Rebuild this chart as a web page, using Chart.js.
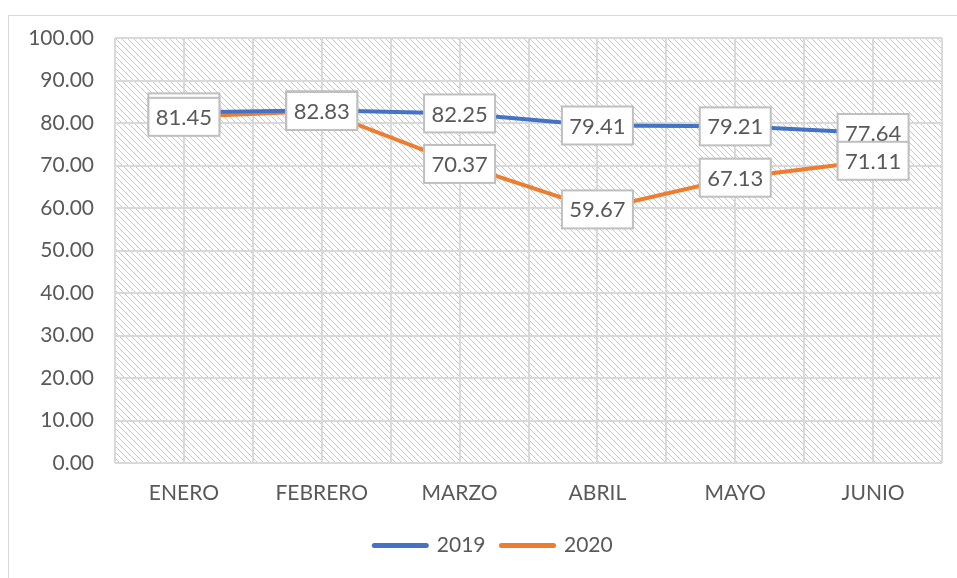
<!DOCTYPE html>
<html>
<head>
<meta charset="utf-8">
<script src="https://cdn.jsdelivr.net/npm/chart.js@4.4.0/dist/chart.umd.min.js"></script>
<style>
  html, body { margin: 0; padding: 0; background: #fff; overflow: hidden; }
  #box { position: absolute; left: 8px; top: 15px; width: 960px; height: 570px; border: 1px solid #d9d9d9; }
  #myChart { display: block; }
</style>
</head>
<body>
<div id="box"><canvas id="myChart" width="960" height="562"></canvas></div>
<script>
const meses = ['ENERO', 'FEBRERO', 'MARZO', 'ABRIL', 'MAYO', 'JUNIO'];
const valores2019 = [82.5, 83.0, 82.25, 79.41, 79.21, 77.64];
const valores2020 = [81.45, 82.83, 70.37, 59.67, 67.13, 71.11];
const series = ['2019', '2020'];

const gris = '#595959';
const fuente = 'Lato, "Open Sans", sans-serif';

// trama diagonal del fondo
function trama() {
  const c = document.createElement('canvas');
  c.width = 6; c.height = 6;
  const g = c.getContext('2d');
  g.strokeStyle = '#c8c8c8';
  g.lineWidth = 1;
  [-6, 0, 6].forEach(i => {
    g.beginPath();
    g.moveTo(i, 0);
    g.lineTo(i + 6, 6);
    g.stroke();
  });
  return c;
}

const fondo = {
  id: 'fondo',
  afterLayout(chart) {
    // la leyenda va algo a la derecha del centro del lienzo
    chart.legend.left += 18;
    chart.legend.right += 18;
  },
  beforeDraw(chart) {
    const { ctx, chartArea: a } = chart;
    ctx.save();
    ctx.fillStyle = ctx.createPattern(trama(), 'repeat');
    ctx.fillRect(a.left, a.top, a.right - a.left, a.bottom - a.top);
    ctx.restore();
  }
};

// etiquetas con recuadro
const etiquetas = {
  id: 'etiquetas',
  afterDatasetsDraw(chart) {
    const ctx = chart.ctx;
    ctx.save();
    ctx.font = '22px ' + fuente;
    ctx.textAlign = 'center';
    ctx.textBaseline = 'middle';
    chart.data.datasets.forEach((ds, d) => {
      chart.getDatasetMeta(d).data.forEach((p, i) => {
        const w = 71, h = 38;
        ctx.fillStyle = '#fff';
        ctx.fillRect(p.x - w / 2, p.y - h / 2, w, h);
        ctx.strokeStyle = '#bfbfbf';
        ctx.lineWidth = 2;
        ctx.strokeRect(p.x - w / 2, p.y - h / 2, w, h);
        ctx.fillStyle = gris;
        ctx.fillText(ds.data[i].toFixed(2), p.x, p.y + 1);
      });
    });
    ctx.restore();
  }
};

const ctx = document.getElementById('myChart');

new Chart(ctx, {
  type: 'line',
  data: {
    labels: meses,
    datasets: [{
      label: series[0],
      data: valores2019,
      borderColor: '#4472c4',
      backgroundColor: '#4472c4',
      borderWidth: 4,
      borderCapStyle: 'round',
      pointRadius: 0,
      tension: 0
    }, {
      label: series[1],
      data: valores2020,
      borderColor: '#ed7d31',
      backgroundColor: '#ed7d31',
      borderWidth: 4,
      borderCapStyle: 'round',
      pointRadius: 0,
      tension: 0
    }]
  },
  options: {
    responsive: false,
    animation: false,
    layout: { padding: { top: 22, right: 27, bottom: 12, left: 0 } },
    plugins: {
      tooltip: { enabled: false },
      legend: {
        position: 'bottom',
        labels: {
          usePointStyle: true,
          pointStyle: 'line',
          pointStyleWidth: 52,
          padding: 16,
          color: gris,
          font: { family: fuente, size: 21 },
          generateLabels(chart) {
            const items = Chart.defaults.plugins.legend.labels.generateLabels(chart);
            items.forEach(it => { it.lineWidth = 5; it.lineCap = 'round'; });
            return items;
          }
        }
      }
    },
    scales: {
      x: {
        offset: true,
        grid: { display: false, drawTicks: false },
        border: { display: false },
        ticks: { color: gris, font: { family: fuente, size: 21 }, padding: 18 },
        afterFit(s) { s.height = 56; }
      },
      xg: {
        type: 'linear',
        position: 'bottom',
        min: -0.5,
        max: 5.5,
        ticks: { display: false, stepSize: 0.5, maxTicksLimit: 20 },
        grid: { color: '#d9d9d9', lineWidth: 2, drawTicks: false },
        border: { display: false },
        afterFit(s) { s.height = 0; }
      },
      y: {
        min: 0,
        max: 100,
        ticks: {
          stepSize: 10,
          padding: 0,
          color: gris,
          font: { family: fuente, size: 21 },
          callback: v => v.toFixed(2)
        },
        grid: { color: '#d9d9d9', lineWidth: 2, drawTicks: true, tickLength: 21, tickColor: 'rgba(0,0,0,0)' },
        border: { display: false },
        afterFit(s) { s.width = 106; }
      }
    }
  },
  plugins: [fondo, etiquetas]
});
</script>
</body>
</html>
